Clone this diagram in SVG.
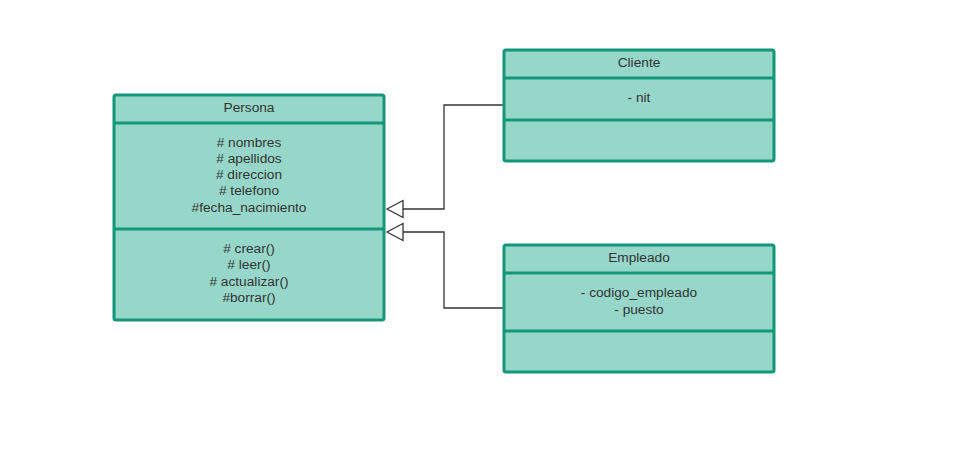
<svg xmlns="http://www.w3.org/2000/svg" width="964" height="452" viewBox="0 0 964 452">
  <style>
    .box { fill: #97d7ca; stroke: #12977b; stroke-width: 3; }
    .div { stroke: #12977b; stroke-width: 3; }
    .t { font-family: "Liberation Sans", Arial, sans-serif; font-size: 13.7px; fill: #333333; text-anchor: middle; }
    .edge { fill: none; stroke: #333333; stroke-width: 1.3; }
    .tri { fill: #ffffff; stroke: #333333; stroke-width: 1.3; }
  </style>
  <rect width="964" height="452" fill="#ffffff"/>

  <!-- generalization connectors -->
  <g id="connectors">
    <path class="edge" d="M503 105 H444 V209 H403"/>
    <polygon class="tri" points="387,209 403,200.5 403,217.5"/>
    <path class="edge" d="M503 308 H444 V232 H403"/>
    <polygon class="tri" points="387,232 403,223.5 403,240.5"/>
  </g>

  <g id="persona">
    <rect class="box" x="114" y="95" width="270" height="225" rx="2"/>
    <line class="div" x1="114" y1="123" x2="384" y2="123"/>
    <line class="div" x1="114" y1="229" x2="384" y2="229"/>
    <text class="t" x="249" y="112">Persona</text>
    <text class="t" x="249" y="147"># nombres</text>
    <text class="t" x="249" y="163"># apellidos</text>
    <text class="t" x="249" y="179"># direccion</text>
    <text class="t" x="249" y="195"># telefono</text>
    <text class="t" x="249" y="212">#fecha_nacimiento</text>
    <text class="t" x="249" y="253"># crear()</text>
    <text class="t" x="249" y="269"># leer()</text>
    <text class="t" x="249" y="286"># actualizar()</text>
    <text class="t" x="249" y="302">#borrar()</text>
  </g>

  <g id="cliente">
    <rect class="box" x="504" y="50" width="270" height="111" rx="2"/>
    <line class="div" x1="504" y1="78" x2="774" y2="78"/>
    <line class="div" x1="504" y1="120" x2="774" y2="120"/>
    <text class="t" x="639" y="67">Cliente</text>
    <text class="t" x="639" y="102">- nit</text>
  </g>

  <g id="empleado">
    <rect class="box" x="504" y="245" width="270" height="127" rx="2"/>
    <line class="div" x1="504" y1="273" x2="774" y2="273"/>
    <line class="div" x1="504" y1="331" x2="774" y2="331"/>
    <text class="t" x="639" y="262">Empleado</text>
    <text class="t" x="639" y="297">- codigo_empleado</text>
    <text class="t" x="639" y="314">- puesto</text>
  </g>
</svg>
